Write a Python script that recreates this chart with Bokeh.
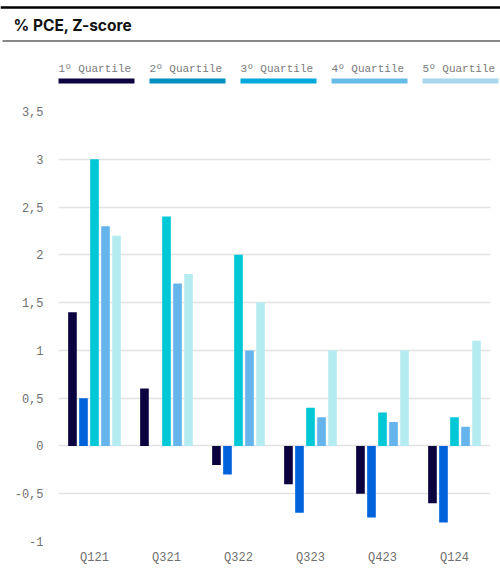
from bokeh.plotting import figure
from bokeh.layouts import column, row
from bokeh.models import ColumnDataSource, Range1d, FactorRange
from bokeh.transform import dodge
from bokeh.core.properties import value
from bokeh.embed import file_html
from bokeh.resources import INLINE

# ---- data ----
quarters = ["Q121", "Q321", "Q322", "Q323", "Q423", "Q124"]
series_names = ["1º Quartile", "2º Quartile", "3º Quartile", "4º Quartile", "5º Quartile"]
q1 = [1.4, 0.6, -0.2, -0.4, -0.5, -0.6]
q2 = [0.5, 0.0, -0.3, -0.7, -0.75, -0.8]
q3 = [3.0, 2.4, 2.0, 0.4, 0.35, 0.3]
q4 = [2.3, 1.7, 1.0, 0.3, 0.25, 0.2]
q5 = [2.2, 1.8, 1.5, 1.0, 1.0, 1.1]
y_ticks = [-1, -0.5, 0, 0.5, 1, 1.5, 2, 2.5, 3, 3.5]
title_text = "% PCE, Z-score"

bar_colors = ["#0b0340", "#0063db", "#00c8d7", "#65b5ec", "#b5ecf1"]
legend_colors = ["#0b0340", "#008fc0", "#00a8dc", "#66bce6", "#a8d6ec"]
MONO = "Liberation Mono"

W = 500
HEAD_H = 90

# ---- header figure (title, rules, legend) ----
h = figure(width=W, height=HEAD_H, x_range=Range1d(0, W), y_range=Range1d(HEAD_H, 0),
           output_backend="svg", toolbar_location=None, min_border=0)
h.axis.visible = False
h.grid.visible = False
h.outline_line_color = None
h.segment(x0=[0], y0=[7], x1=[W], y1=[7], line_color="#000000", line_width=2.5)
h.segment(x0=[2], y0=[40.5], x1=[W], y1=[40.5], line_color="#111111", line_width=1)
h.text(x=[13], y=[24.5], text=[title_text], text_font=value("Inter"), text_font_style="bold",
       text_font_size="15.5px", text_color="#111111", text_baseline="middle", text_align="left")

leg_x0 = 58
leg_step = 91
xs = [leg_x0 + i * leg_step for i in range(len(series_names))]
h.text(x=xs, y=[68] * len(xs), text=series_names, text_font=value(MONO), text_font_size="11px",
       text_color="#7a7a7a", text_baseline="middle", text_align="left")
h.quad(left=xs, right=[x + 76 for x in xs], top=[78] * len(xs), bottom=[83] * len(xs),
       fill_color=legend_colors, line_color=None)

# ---- chart figure ----
p = figure(width=W, height=572 - HEAD_H, x_range=FactorRange(*quarters), y_range=Range1d(-1, 3.5),
           output_backend="svg", toolbar_location=None,
           min_border_left=58, min_border_right=10, min_border_top=21, min_border_bottom=31)
p.outline_line_color = None
p.xgrid.visible = False
p.ygrid.grid_line_color = "#e2e2e2"
p.ygrid.grid_line_width = 1.5
p.yaxis.ticker = y_ticks
p.yaxis.major_label_overrides = {t: (str(t).replace(".", ",")) for t in y_ticks}
for ax in (p.xaxis[0], p.yaxis[0]):
    ax.axis_line_color = None
    ax.major_tick_line_color = None
    ax.minor_tick_line_color = None
    ax.major_label_text_font = MONO
    ax.major_label_text_font_size = "12px"
    ax.major_label_text_color = "#6f6f6f"
p.yaxis.major_label_standoff = 9
p.xaxis.major_label_standoff = 3

src = ColumnDataSource(dict(q=quarters, s1=q1, s2=q2, s3=q3, s4=q4, s5=q5))
step = 0.153
for i, col in enumerate(["s1", "s2", "s3", "s4", "s5"]):
    p.vbar(x=dodge("q", (i - 2) * step, range=p.x_range), top=col, bottom=0, width=0.12,
           source=src, fill_color=bar_colors[i], line_color=None)

layout = column(row(h), row(p), spacing=0)
open("out.html", "w").write(file_html(layout, INLINE))
